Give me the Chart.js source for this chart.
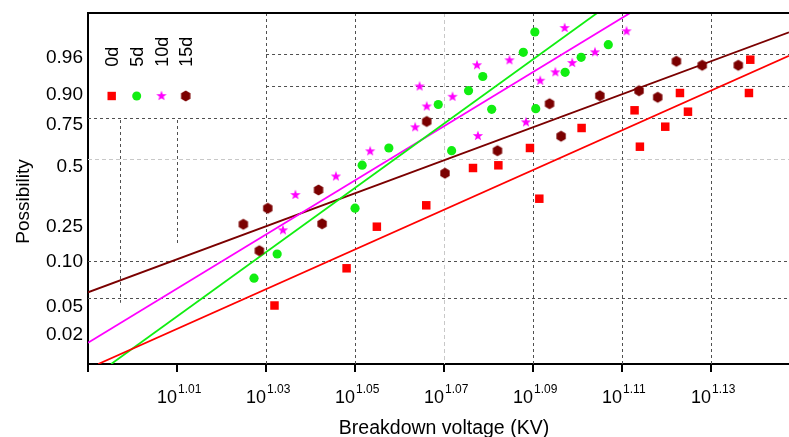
<!DOCTYPE html>
<html>
<head>
  <title>Breakdown voltage probability plot</title>
  <script src="https://cdn.jsdelivr.net/npm/chart.js"></script>
  <style>
    body { margin: 0; background: #fff; overflow: hidden; }
    canvas { display: block; }
  </style>
</head>
<body>
  <canvas id="weibullChart" width="789" height="437"></canvas>

  <script>
    // x = log10(breakdown voltage), y = position on the probability axis
    const groups = ['0d', '5d', '10d', '15d'];

    const x0d = [1.0319, 1.0481, 1.0549, 1.0660, 1.0765, 1.0822, 1.0893, 1.0914, 1.1009, 1.1128, 1.1140, 1.1197, 1.1230, 1.1248, 1.1385, 1.1388];
    const y0d = [-3.03, -2.286, -1.454, -1.026, -0.28, -0.226, 0.12, -0.894, 0.52, 0.874, 0.146, 0.546, 1.22, 0.846, 1.22, 1.886];

    const x5d = [1.0273, 1.0325, 1.0500, 1.0516, 1.0576, 1.0687, 1.0717, 1.0755, 1.0787, 1.0807, 1.0878, 1.0904, 1.0906, 1.0972, 1.1008, 1.1069];
    const y5d = [-2.484, -2.0, -1.084, -0.224, 0.12, 0.99, 0.066, 1.266, 1.55, 0.894, 2.034, 2.44, 0.906, 1.634, 1.934, 2.186];

    const x10d = [1.0338, 1.0366, 1.0457, 1.0534, 1.0635, 1.0645, 1.0661, 1.0719, 1.0774, 1.0776, 1.0847, 1.0884, 1.0916, 1.0950, 1.0971, 1.0988, 1.1039, 1.1110];
    const y10d = [-1.526, -0.82, -0.45, 0.054, 0.534, 1.35, 0.95, 1.144, 1.776, 0.36, 1.874, 0.634, 1.466, 1.634, 2.52, 1.82, 2.034, 2.454];

    const x15d = [1.0249, 1.0285, 1.0304, 1.0418, 1.0426, 1.0661, 1.0702, 1.0820, 1.0937, 1.0963, 1.1050, 1.1138, 1.1180, 1.1222, 1.1280, 1.1361];
    const y15d = [-1.406, -1.934, -1.086, -0.72, -1.396, 0.65, -0.384, 0.066, 1.006, 0.356, 1.166, 1.266, 1.134, 1.854, 1.774, 1.774];

    // fitted lines, two end points each
    const fitX0d = [0.9923, 1.1475];
    const fitY0d = [-4.2, 1.966];
    const fitX5d = [0.9952, 1.1044];
    const fitY5d = [-4.2, 2.82];
    const fitX10d = [0.99, 1.1118];
    const fitY10d = [-3.774, 2.82];
    const fitX15d = [0.99, 1.1475];
    const fitY15d = [-2.766, 2.434];

    const xTicks = [0.99, 1.01, 1.03, 1.05, 1.07, 1.09, 1.11, 1.13];
    const xTickExp = ['', '1.01', '1.03', '1.05', '1.07', '1.09', '1.11', '1.13'];
    const yTickPos = [1.934, 1.18, 0.58, -0.254, -1.454, -2.154, -3.054, -3.62];
    const yTickLabels = ['0.96', '0.90', '0.75', '0.5', '0.25', '0.10', '0.05', '0.02'];

    const colors = ['#ff0000', '#11ee11', '#ff00ff', '#7b0000'];
    const font = '"Liberation Sans", Arial, sans-serif';

    // dashed grid, some pieces only partly drawn like in the original figure
    const hGrid = [
      { y: 2.0, from: 1.03, light: false },
      { y: 1.354, from: 1.03, light: false },
      { y: 0.72, from: null, light: false },
      { y: -0.10, from: null, light: true },
      { y: -2.134, from: null, light: false },
      { y: -2.874, from: null, light: false }
    ];
    const vGrid = [
      { x: 0.9971, top: 0.68, bottom: -2.974, light: false },
      { x: 1.01, top: 0.68, bottom: -1.82, light: false },
      { x: 1.03, top: null, bottom: null, light: false },
      { x: 1.05, top: null, bottom: null, light: false },
      { x: 1.07, top: null, bottom: null, light: true },
      { x: 1.09, top: null, bottom: null, light: false },
      { x: 1.11, top: null, bottom: null, light: false },
      { x: 1.13, top: null, bottom: null, light: false }
    ];

    function makeMarker(draw) {
      const c = document.createElement('canvas');
      c.width = c.height = 14;
      draw(c.getContext('2d'), 7);
      return c;
    }
    const starMark = makeMarker((g, c) => {
      g.fillStyle = colors[2];
      g.beginPath();
      for (let i = 0; i < 10; i++) {
        const r = i % 2 ? 2.2 : 5.4;
        const a = -Math.PI / 2 + i * Math.PI / 5;
        g.lineTo(c + r * Math.cos(a), c + r * Math.sin(a));
      }
      g.closePath();
      g.fill();
    });
    const hexMark = makeMarker((g, c) => {
      g.fillStyle = colors[3];
      g.beginPath();
      for (let i = 0; i < 6; i++) {
        const a = -Math.PI / 2 + i * Math.PI / 3;
        g.lineTo(c + 5.4 * Math.cos(a), c + 5.4 * Math.sin(a));
      }
      g.closePath();
      g.fill();
    });

    function pts(xs, ys) {
      return xs.map((x, i) => ({ x: x, y: ys[i] }));
    }
    function fitLine(xs, ys, color) {
      return {
        data: pts(xs, ys),
        showLine: true,
        borderColor: color,
        borderWidth: 1.8,
        pointRadius: 0,
        order: 2
      };
    }

    const framePlugin = {
      id: 'frame',
      beforeDatasetsDraw(chart) {
        const { ctx, chartArea: a, scales: { x, y } } = chart;
        ctx.save();
        ctx.lineWidth = 1;
        hGrid.forEach(g => {
          ctx.strokeStyle = g.light ? '#c8c8c8' : '#505050';
          ctx.setLineDash(g.light ? [4, 3] : [3, 3]);
          const py = Math.round(y.getPixelForValue(g.y)) + 0.5;
          ctx.beginPath();
          ctx.moveTo(g.from === null ? a.left : x.getPixelForValue(g.from), py);
          ctx.lineTo(a.right, py);
          ctx.stroke();
        });
        vGrid.forEach(g => {
          ctx.strokeStyle = g.light ? '#c8c8c8' : '#505050';
          ctx.setLineDash(g.light ? [4, 3] : [3, 3]);
          const px = Math.round(x.getPixelForValue(g.x)) + 0.5;
          ctx.beginPath();
          ctx.moveTo(px, g.top === null ? a.top : y.getPixelForValue(g.top));
          ctx.lineTo(px, g.bottom === null ? a.bottom : y.getPixelForValue(g.bottom));
          ctx.stroke();
        });
        ctx.restore();
      },
      afterDraw(chart) {
        const { ctx, chartArea: a, scales: { x } } = chart;
        ctx.save();
        // top frame line
        ctx.strokeStyle = '#000';
        ctx.lineWidth = 2;
        ctx.beginPath();
        ctx.moveTo(a.left - 1, a.top);
        ctx.lineTo(a.right, a.top);
        ctx.stroke();

        // x tick labels 10^n
        ctx.fillStyle = '#000';
        ctx.textBaseline = 'alphabetic';
        xTicks.forEach((v, i) => {
          if (!xTickExp[i]) return;
          const px = x.getPixelForValue(v);
          ctx.font = '18px ' + font;
          ctx.textAlign = 'right';
          ctx.fillText('10', px, 403);
          ctx.font = '12px ' + font;
          ctx.textAlign = 'left';
          ctx.fillText(xTickExp[i], px + 1, 393);
        });

        // axis titles
        ctx.font = '19.5px ' + font;
        ctx.textAlign = 'center';
        ctx.fillText('Breakdown voltage (KV)', 444, 434);
        ctx.save();
        ctx.translate(28.5, 201.5);
        ctx.rotate(-Math.PI / 2);
        ctx.font = '19px ' + font;
        ctx.fillText('Possibility', 0, 0);
        ctx.restore();

        // legend: rotated names above markers
        const legX = [111.7, 136.7, 161.5, 185.7];
        ctx.font = '18px ' + font;
        groups.forEach((name, i) => {
          ctx.save();
          ctx.translate(legX[i] + 6.7, 66.7);
          ctx.rotate(-Math.PI / 2);
          ctx.textAlign = 'left';
          ctx.fillText(name, 0, 0);
          ctx.restore();
        });
        ctx.fillStyle = colors[0];
        ctx.fillRect(legX[0] - 4.2, 96 - 4.2, 8.4, 8.4);
        ctx.fillStyle = colors[1];
        ctx.beginPath();
        ctx.arc(legX[1], 96, 4.5, 0, Math.PI * 2);
        ctx.fill();
        ctx.drawImage(starMark, legX[2] - 7, 96 - 7);
        ctx.drawImage(hexMark, legX[3] - 7, 96 - 7);
        ctx.restore();
      }
    };

    Chart.defaults.color = '#000';
    Chart.defaults.font.family = font;

    const chart = new Chart(document.getElementById('weibullChart'), {
      type: 'scatter',
      data: {
        datasets: [
          { label: groups[0], data: pts(x0d, y0d), pointStyle: 'rect', pointRadius: 6, backgroundColor: colors[0], borderWidth: 0, order: 1 },
          { label: groups[1], data: pts(x5d, y5d), pointStyle: 'circle', pointRadius: 4.6, backgroundColor: colors[1], borderWidth: 0, order: 1 },
          { label: groups[2], data: pts(x10d, y10d), pointStyle: starMark, order: 1 },
          { label: groups[3], data: pts(x15d, y15d), pointStyle: hexMark, order: 1 },
          fitLine(fitX0d, fitY0d, colors[0]),
          fitLine(fitX5d, fitY5d, colors[1]),
          fitLine(fitX10d, fitY10d, colors[2]),
          fitLine(fitX15d, fitY15d, colors[3])
        ]
      },
      options: {
        responsive: false,
        animation: false,
        devicePixelRatio: 1,
        layout: { autoPadding: false, padding: { top: 13, left: 0, right: 0, bottom: 0 } },
        plugins: { legend: { display: false }, tooltip: { enabled: false } },
        scales: {
          x: {
            type: 'linear',
            min: 0.99,
            max: 1.1475,
            afterBuildTicks: s => { s.ticks = xTicks.map(v => ({ value: v })); },
            afterFit: s => { s.height = 73; },
            ticks: { display: false },
            grid: { drawOnChartArea: false, color: '#000', lineWidth: 2, tickLength: 8 },
            border: { color: '#000', width: 2 }
          },
          y: {
            type: 'linear',
            min: -4.2,
            max: 2.82,
            afterBuildTicks: s => { s.ticks = yTickPos.map(v => ({ value: v })); },
            afterFit: s => { s.width = 88; },
            ticks: {
              padding: 0,
              font: { size: 19 },
              callback: (v, i) => yTickLabels[i]
            },
            grid: { display: false, drawTicks: true, tickLength: 5 },
            border: { color: '#000', width: 2 }
          }
        }
      },
      plugins: [framePlugin]
    });
  </script>
</body>
</html>
